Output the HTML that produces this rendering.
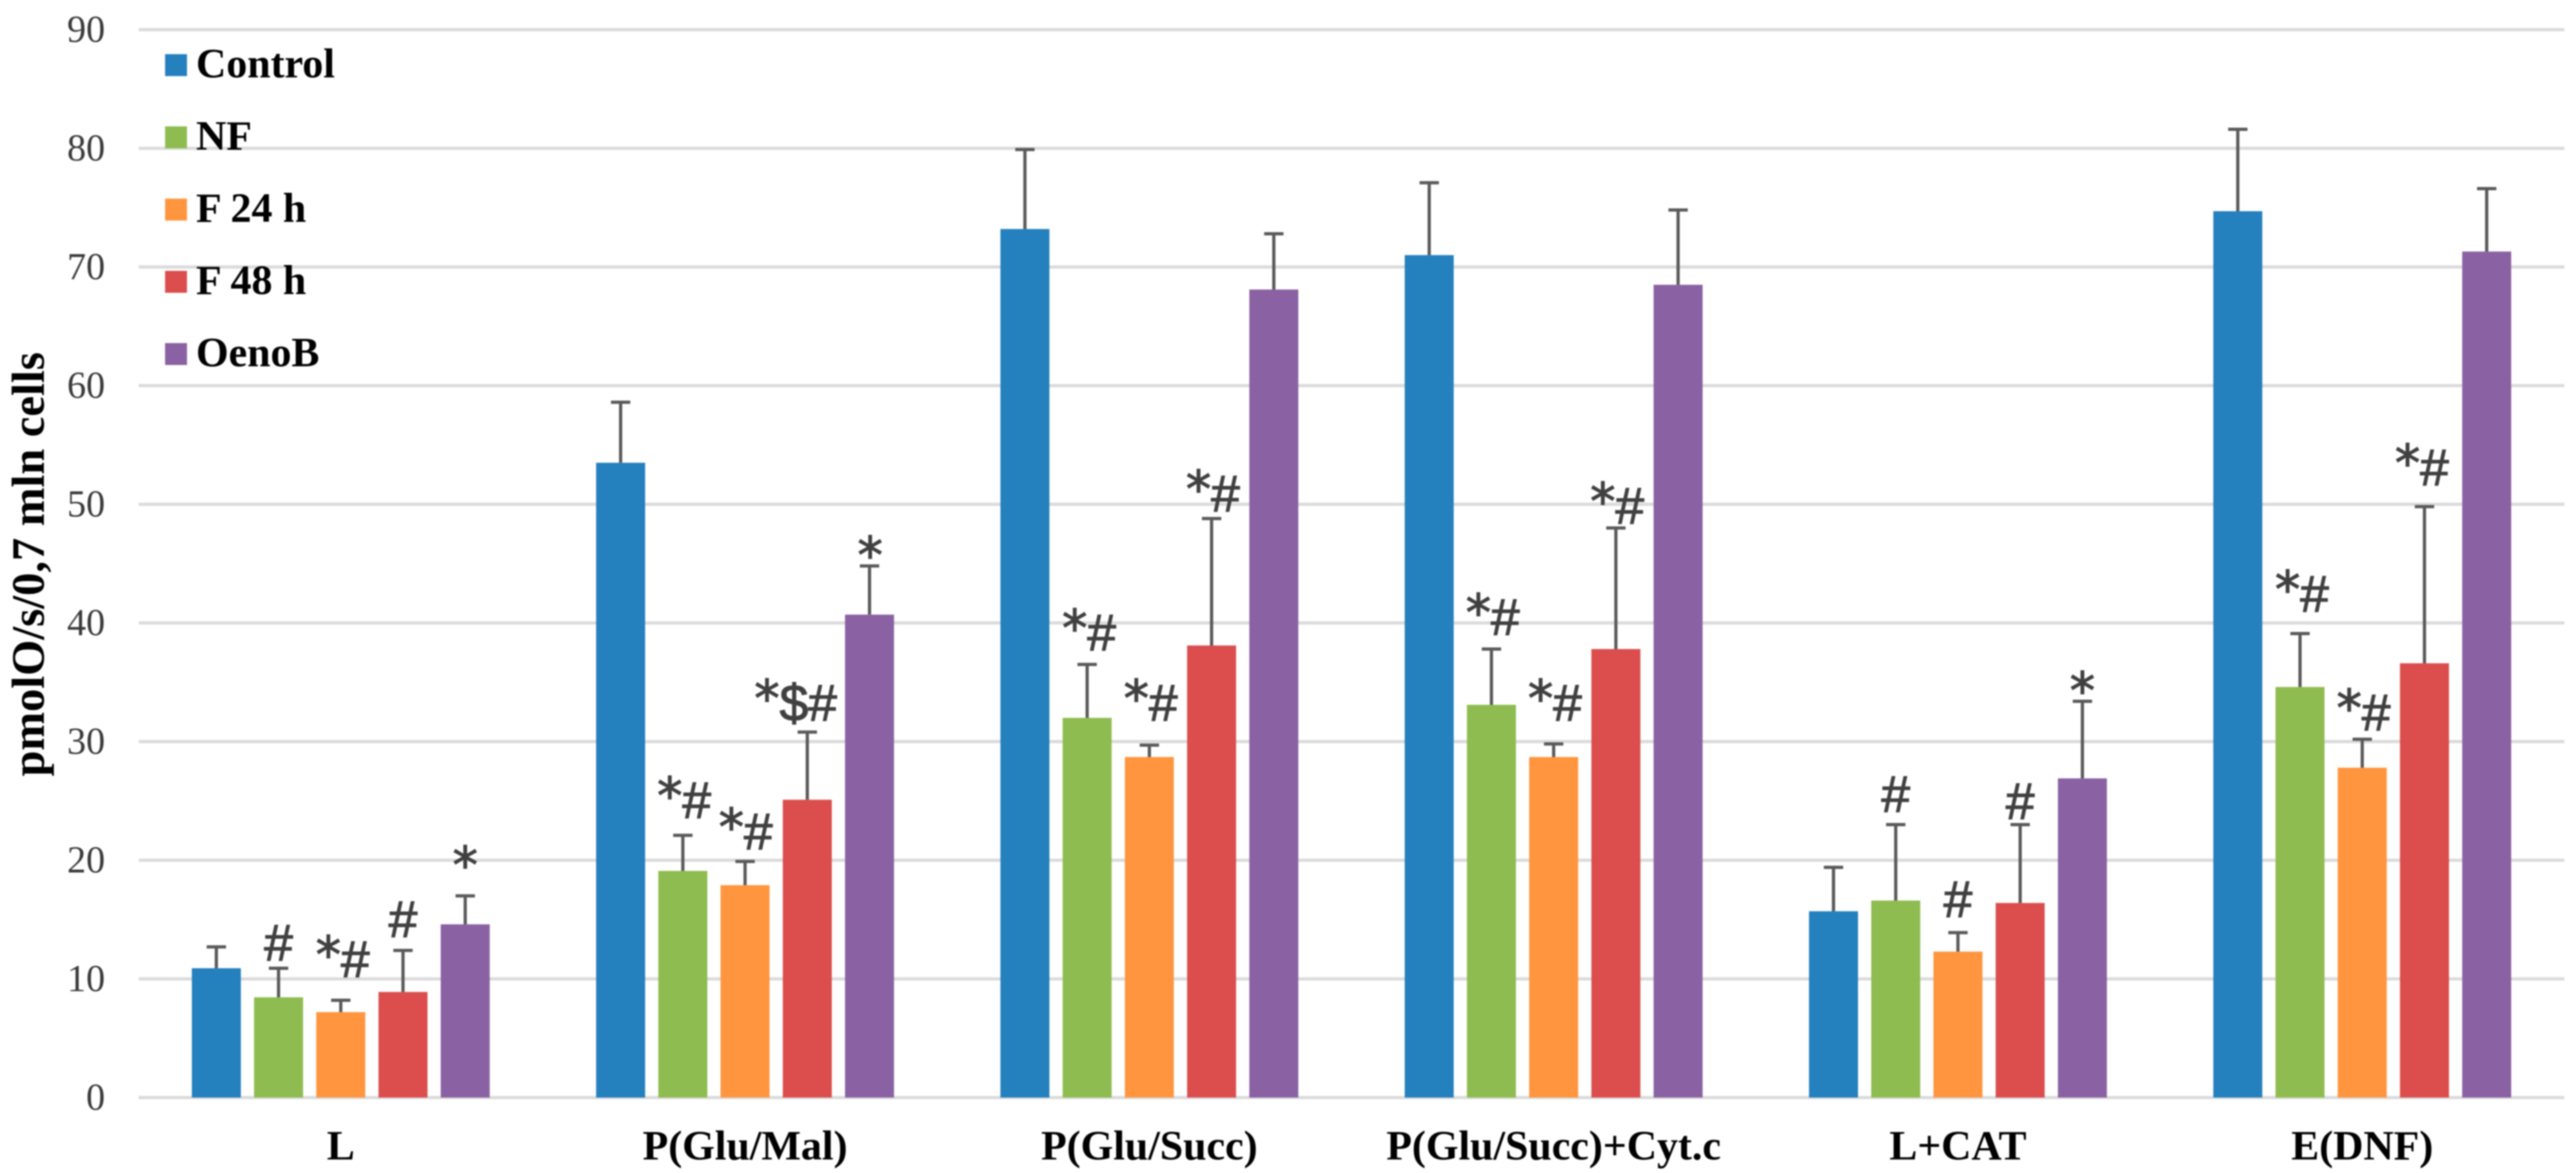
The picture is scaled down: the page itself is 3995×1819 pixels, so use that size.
<!DOCTYPE html>
<html lang="en">
<head>
<meta charset="utf-8">
<title>Mitochondrial respiration chart</title>
<style>
html,body{margin:0;padding:0;background:#fff;width:3995px;height:1819px;overflow:hidden}
svg{display:block;filter:blur(1px)}
</style>
</head>
<body>
<svg id="chart" xmlns="http://www.w3.org/2000/svg" width="3995" height="1819" viewBox="0 0 3995 1819"></svg>
<script>
const categories = ["L", "P(Glu/Mal)", "P(Glu/Succ)", "P(Glu/Succ)+Cyt.c", "L+CAT", "E(DNF)"];
const seriesNames = ["Control", "NF", "F 24 h", "F 48 h", "OenoB"];
const yTicks = [0, 10, 20, 30, 40, 50, 60, 70, 80, 90];

const controlValues = [10.9, 53.5, 73.2, 71.0, 15.7, 74.7];
const nfValues = [8.45, 19.1, 32.0, 33.1, 16.6, 34.6];
const f24Values = [7.2, 17.9, 28.7, 28.7, 12.3, 27.8];
const f48Values = [8.9, 25.1, 38.1, 37.8, 16.4, 36.6];
const oenobValues = [14.6, 40.7, 68.1, 68.5, 26.9, 71.3];

const controlErrors = [1.8, 5.1, 6.7, 6.1, 3.7, 6.9];
const nfErrors = [2.45, 3.0, 4.5, 4.7, 6.4, 4.5];
const f24Errors = [1.0, 2.0, 1.0, 1.1, 1.6, 2.4];
const f48Errors = [3.5, 5.7, 10.7, 10.2, 6.6, 13.2];
const oenobErrors = [2.4, 4.1, 4.7, 6.3, 6.5, 5.3];

const controlMarks = ["", "", "", "", "", ""];
const nfMarks = ["#", "*#", "*#", "*#", "#", "*#"];
const f24Marks = ["*#", "*#", "*#", "*#", "#", "*#"];
const f48Marks = ["#", "*$#", "*#", "*#", "#", "*#"];
const oenobMarks = ["*", "*", "", "", "*", ""];

const allValues = [controlValues, nfValues, f24Values, f48Values, oenobValues];
const allErrors = [controlErrors, nfErrors, f24Errors, f48Errors, oenobErrors];
const allMarks = [controlMarks, nfMarks, f24Marks, f48Marks, oenobMarks];

/* Label placement only (pixels above the error cap / sideways from the bar centre) */
const markLift = [
  [0, 0, 0, 0, 0, 0],
  [12, 27, 22, 22, 20, 34],
  [36, 19, 38, 36, 24, 14],
  [21, 18, 11, 7, 9, 33],
  [20, -11, 0, 0, -11, 0]
];
const markShift = [
  [0, 0, 0, 0, 0, 0],
  [0, 2, 3, 2, 0, 3],
  [3, 1, 2, 2, 0, 2],
  [0, -18, 2, 2, 0, -4],
  [0, 1, 0, 0, 0, 0]
];

const seriesColors = ["#2580BE", "#8FBC50", "#FF953F", "#DB4E4D", "#8A62A3"];
const serifFont = '"Liberation Serif", serif';
const sansFont = '"Liberation Sans", sans-serif';
const starFont = '"DejaVu Sans", sans-serif';

const NS = "http://www.w3.org/2000/svg";
const svg = document.getElementById("chart");
const plotLeft = 215, plotRight = 3977, baseY = 1702, pxPerUnit = 18.4;
const barPitch = 96.5, barWidth = 76, capWidth = 30;

function y(v) { return baseY - v * pxPerUnit; }
function categoryCenter(c) { return plotLeft + (plotRight - plotLeft) / categories.length * (c + 0.5); }
function barCenter(c, s) { return categoryCenter(c) + (s - (seriesNames.length - 1) / 2) * barPitch; }
function make(tag, attrs, parent) {
  const el = document.createElementNS(NS, tag);
  for (const k in attrs) el.setAttribute(k, attrs[k]);
  (parent || svg).appendChild(el);
  return el;
}
function slug(t) { return t.toLowerCase().replace(/[^a-z0-9]+/g, "-").replace(/^-|-$/g, ""); }

yTicks.forEach(function (t) {
  const line = make("rect", { x: plotLeft, y: y(t) - 2.5, width: plotRight - plotLeft, height: 5, fill: "#DBDBDB" });
  
  
  const label = make("text", { x: 163, y: y(t) + 19, "text-anchor": "end", "font-family": serifFont, "font-size": 59, fill: "#3a3a3a" });
  label.textContent = t;
  
  
});

const yTitle = make("text", { transform: "translate(68 875) rotate(-90)", "text-anchor": "middle", "font-family": serifFont, "font-weight": "bold", "font-size": 72, fill: "#000" });
yTitle.textContent = "pmolO/s/0,7 mln cells";



categories.forEach(function (cat, c) {
  const label = make("text", { x: categoryCenter(c), y: 1798, "text-anchor": "middle", "font-family": serifFont, "font-weight": "bold", "font-size": 65, fill: "#000" });
  label.textContent = cat;
  
  
});

seriesNames.forEach(function (name, s) {
  categories.forEach(function (cat, c) {
    const v = allValues[s][c];
    const top = v + allErrors[s][c];
    const cx = barCenter(c, s);

    const bar = make("rect", { x: cx - barWidth / 2, y: y(v), width: barWidth, height: baseY - y(v), fill: seriesColors[s] });
    
    

    const stem = make("line", { x1: cx, x2: cx, y1: y(v), y2: y(top), stroke: "#5a5a5a", "stroke-width": 5 });
    
    

    const cap = make("line", { x1: cx - capWidth / 2, x2: cx + capWidth / 2, y1: y(top), y2: y(top), stroke: "#5a5a5a", "stroke-width": 5 });
    
    

    const mark = allMarks[s][c];
    if (mark) {
      const text = make("text", { x: cx + markShift[s][c], y: y(top) - markLift[s][c], "text-anchor": "middle", "font-family": sansFont, "font-size": 80, fill: "#404040", stroke: "#404040", "stroke-width": 1.6 });
      
      
      let lifted = false;
      Array.from(mark).forEach(function (ch) {
        const span = make("tspan", {}, text);
        span.textContent = ch;
        if (ch === "*") {
          span.setAttribute("font-family", starFont);
          span.setAttribute("font-size", 78);
          if (mark.length > 1) { span.setAttribute("dy", -7); lifted = true; }
        } else if (lifted) {
          span.setAttribute("dy", 7);
          lifted = false;
        }
      });
    }
  });
});

seriesNames.forEach(function (name, s) {
  const baseline = 120 + 112 * s;
  const swatch = make("rect", { x: 256, y: baseline - 36, width: 34, height: 34, fill: seriesColors[s] });
  
  
  const label = make("text", { x: 304, y: baseline, "font-family": serifFont, "font-weight": "bold", "font-size": 65, fill: "#000" });
  label.textContent = name;
  
  
});
</script>
</body>
</html>
